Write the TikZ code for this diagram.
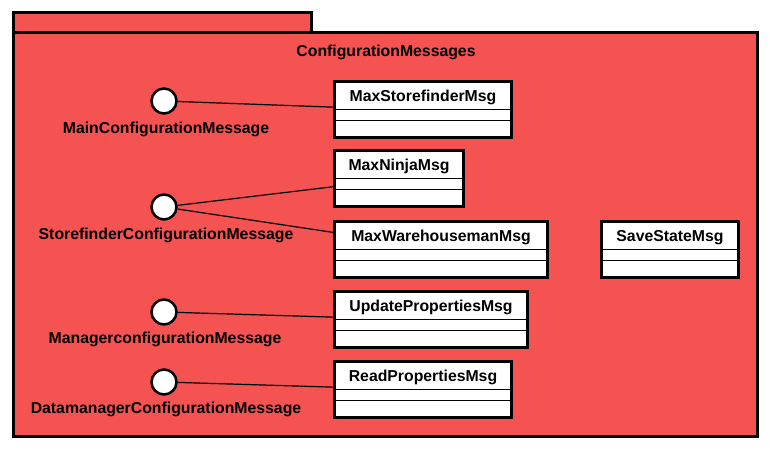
\documentclass[tikz,border=0pt]{standalone}
\usepackage{fontspec}
\setmainfont{Liberation Sans}
\usetikzlibrary{calc}
\definecolor{pkgred}{RGB}{245,82,82}
\tikzset{
  pkg/.style={draw=black, line width=3pt, fill=pkgred},
  iface/.style={circle, draw=black, line width=2.5pt, fill=white, minimum size=25pt, inner sep=0pt},
  ilabel/.style={font=\fontsize{15.8}{18}\selectfont\bfseries, inner sep=0pt},
  clsbox/.style={draw=black, line width=3pt, fill=white, anchor=north west, inner sep=0pt},
  clsname/.style={font=\fontsize{15.8}{18}\selectfont\bfseries, inner sep=0pt},
  sep/.style={draw=black, line width=1pt},
  conn/.style={draw=black, line width=1.2pt}
}
\newcommand{\clsdraw}[5]{%
  \node[clsbox, minimum width=#2pt, minimum height=56pt] (#1) at (#3,#4) {};
  \node[clsname] (#1n) at ($(#1.north)+(0,17.5)$) {#5};
  \draw[sep] ($(#1.north west)+(0,30)$) -- ($(#1.north east)+(0,30)$);
  \draw[sep] ($(#1.north west)+(0,41)$) -- ($(#1.north east)+(0,41)$);
}
\begin{document}
\begin{tikzpicture}[x=1pt, y=-1pt]
\useasboundingbox (0,0) rectangle (769,454);
% package
\draw[pkg] (13,13) rectangle (311,33);
\draw[pkg] (13,33) rectangle (757,437);
\node[ilabel] (title) at (386,52.5) {ConfigurationMessages};
% classes
\clsdraw{b1}{177}{333}{80}{MaxStorefinderMsg}
\clsdraw{b2}{129}{333}{149}{MaxNinjaMsg}
\clsdraw{b3}{213}{333}{220}{MaxWarehousemanMsg}
\clsdraw{b6}{137}{600}{220}{SaveStateMsg}
\clsdraw{b4}{193}{333}{290}{UpdatePropertiesMsg}
\clsdraw{b5}{177}{333}{360}{ReadPropertiesMsg}
% interfaces
\node[iface] (c1) at (164,101) {};
\node[iface] (c2) at (164,207) {};
\node[iface] (c3) at (164,312) {};
\node[iface] (c4) at (164,382) {};
\node[ilabel] (l1) at (166,129.5) {MainConfigurationMessage};
\node[ilabel] (l2) at (166,235) {StorefinderConfigurationMessage};
\node[ilabel] (l3) at (165,339.5) {ManagerconfigurationMessage};
\node[ilabel] (l4) at (166,409.5) {DatamanagerConfigurationMessage};
% connectors
\draw[conn] (c1) -- ($(b1.north west)!0.46!(b1.south west)$);
\draw[conn] (c2) -- ($(b2.north west)!0.64!(b2.south west)$);
\draw[conn] (c2) -- ($(b3.north west)!0.21!(b3.south west)$);
\draw[conn] (c3) -- ($(b4.north west)!0.46!(b4.south west)$);
\draw[conn] (c4) -- ($(b5.north west)!0.46!(b5.south west)$);
\end{tikzpicture}
\end{document}
